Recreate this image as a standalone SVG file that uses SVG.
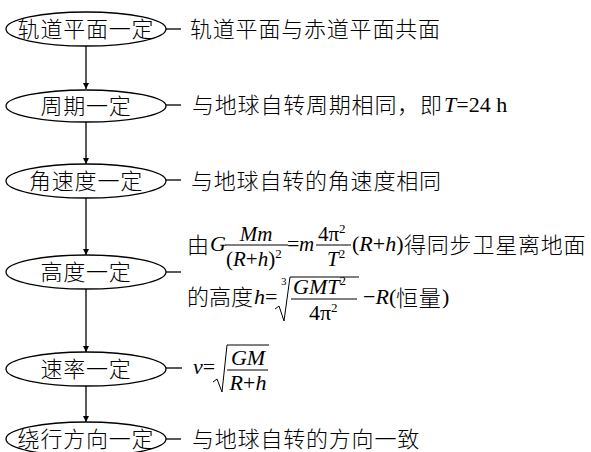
<svg xmlns="http://www.w3.org/2000/svg" width="591" height="452" viewBox="0 0 591 452">
<style>
.n{fill:#fff;stroke:#000;stroke-width:1.3}
.c{stroke:#000;stroke-width:1.3;fill:none}
.b{stroke:#000;stroke-width:1;fill:none}
.cj{font-family:"Noto Sans CJK SC","Noto Sans",sans-serif;font-size:22px;font-weight:300;fill:#000;letter-spacing:0.8px}
.ns{letter-spacing:0}
.lt{font-family:"Liberation Serif","Times New Roman",serif;font-size:22px;fill:#000}
.fr{font-size:21px}
.it{font-style:italic}
.sup{font-size:13px}
.mid{text-anchor:middle}
</style>
<defs>
<marker id="ah" viewBox="0 0 10 10" refX="10" refY="5" markerWidth="6" markerHeight="8" markerUnits="userSpaceOnUse" orient="auto">
<path d="M0,0 L10,5 L0,10 z" fill="#000"/>
</marker>
</defs>
<g id="connectors">
<line class="c" x1="86" y1="46" x2="86" y2="89" marker-end="url(#ah)"/>
<line class="c" x1="86" y1="122" x2="86" y2="164" marker-end="url(#ah)"/>
<line class="c" x1="86" y1="198" x2="86" y2="255" marker-end="url(#ah)"/>
<line class="c" x1="86" y1="289" x2="86" y2="352" marker-end="url(#ah)"/>
<line class="c" x1="86" y1="386" x2="86" y2="422" marker-end="url(#ah)"/>
<line class="c" x1="166" y1="29" x2="181" y2="29"/>
<line class="c" x1="166" y1="105" x2="181" y2="105"/>
<line class="c" x1="166" y1="180" x2="181" y2="180"/>
<line class="c" x1="166" y1="272" x2="181" y2="272"/>
<line class="c" x1="166" y1="368" x2="182" y2="368"/>
<line class="c" x1="166" y1="439" x2="181" y2="439"/>
</g>
<g id="n1"><ellipse class="n" cx="86" cy="29" rx="80" ry="17"/><text class="cj mid" x="86" y="37">轨道平面一定</text></g>
<g id="n2"><ellipse class="n" cx="86" cy="106" rx="80" ry="16"/><text class="cj mid" x="86" y="114">周期一定</text></g>
<g id="n3"><ellipse class="n" cx="86" cy="181" rx="80" ry="17"/><text class="cj mid" x="86" y="189">角速度一定</text></g>
<g id="n4"><ellipse class="n" cx="86" cy="272" rx="80" ry="17"/><text class="cj mid" x="86" y="280">高度一定</text></g>
<g id="n5"><ellipse class="n" cx="86" cy="369" rx="80" ry="17"/><text class="cj mid" x="86" y="377">速率一定</text></g>
<g id="n6"><ellipse class="n" cx="86" cy="439" rx="80" ry="17"/><text class="cj mid" x="86" y="447">绕行方向一定</text></g>
<g id="t1"><text class="cj" x="190" y="37">轨道平面与赤道平面共面</text></g>
<g id="t2"><text class="cj" x="192" y="113">与地球自转周期相同，即</text><text class="lt" x="444" y="112"><tspan class="it">T</tspan>=24 h</text></g>
<g id="t3"><text class="cj" x="191" y="189">与地球自转的角速度相同</text></g>
<g id="t4">
<text class="cj" x="187" y="253">由</text>
<text class="lt it" x="210" y="251">G</text>
<text class="lt fr it mid" x="256" y="241">Mm</text>
<line class="b" x1="225" y1="245" x2="288" y2="245"/>
<text class="lt fr" x="226" y="266">(<tspan class="it">R</tspan>+<tspan class="it">h</tspan>)<tspan class="sup" dy="-8">2</tspan></text>
<text class="lt" x="287" y="251">=</text>
<text class="lt it" x="299" y="251" style="font-size:21px">m</text>
<text class="lt fr" x="318" y="241">4π<tspan class="sup" dy="-8">2</tspan></text>
<line class="b" x1="316" y1="245" x2="351" y2="245"/>
<text class="lt fr" x="327" y="266"><tspan class="it">T</tspan><tspan class="sup" dy="-8">2</tspan></text>
<text class="lt" x="352" y="251">(<tspan class="it">R</tspan>+<tspan class="it">h</tspan>)</text>
<text class="cj" x="404" y="253">得同步卫星离地面</text>
<text class="cj ns" x="187" y="305">的高度</text>
<text class="lt" x="254" y="304"><tspan class="it">h</tspan>=</text>
<path class="b" d="M275,309 L279,306 L284,321 L290,277 L359,277"/>
<text class="lt" x="281" y="285" style="font-size:11px">3</text>
<text class="lt" x="293" y="294"><tspan class="it">GMT</tspan><tspan class="sup" dy="-9">2</tspan></text>
<line class="b" x1="291" y1="299" x2="357" y2="299"/>
<text class="lt" x="309" y="320">4π<tspan class="sup" dy="-8">2</tspan></text>
<text class="lt" x="363" y="304">−<tspan class="it">R</tspan>(</text>
<text class="cj" x="396" y="306">恒量</text>
<text class="lt" x="442" y="304">)</text>
</g>
<g id="t5">
<text class="lt" x="193" y="374"><tspan class="it">v</tspan>=</text>
<path class="b" d="M213,382 L217,379 L222,392 L227,345 L269,345"/>
<text class="lt it mid" x="248" y="365">GM</text>
<line class="b" x1="227" y1="370" x2="268" y2="370"/>
<text class="lt mid" x="248" y="390"><tspan class="it">R</tspan>+<tspan class="it">h</tspan></text>
</g>
<g id="t6"><text class="cj" x="192" y="447">与地球自转的方向一致</text></g>
</svg>
